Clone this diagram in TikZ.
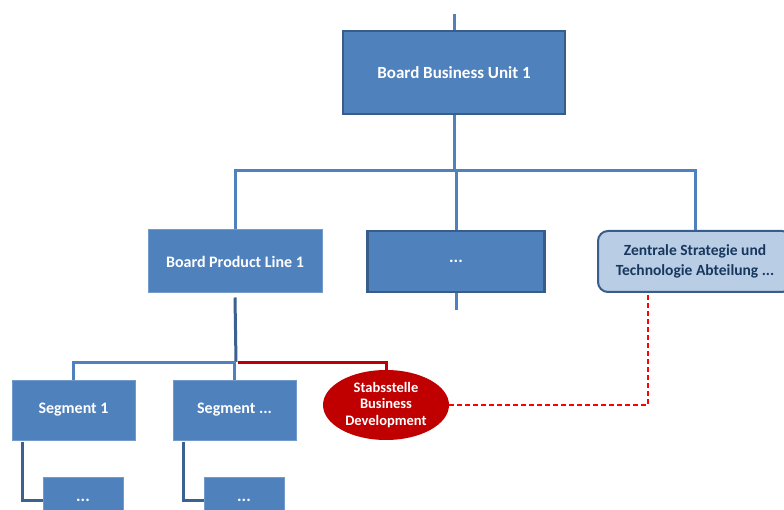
\documentclass[tikz,border=0pt]{standalone}
\usepackage{fontspec}
\setmainfont{Carlito}
\usetikzlibrary{positioning}
\usetikzlibrary{shapes.geometric}
\definecolor{boxblue}{RGB}{79,129,189}
\definecolor{darkblue}{RGB}{56,93,138}
\definecolor{lightblue}{RGB}{185,205,229}
\definecolor{navytext}{RGB}{23,55,94}
\definecolor{stabred}{RGB}{192,0,0}
\tikzset{orgbox/.style={draw=boxblue!80!white, line width=1pt, fill=boxblue, text=white, font=\bfseries\fontsize{17}{20}\selectfont, inner sep=0pt}}
\tikzset{orgboxBold/.style={orgbox, draw=darkblue, line width=2.5pt}}
\tikzset{orgboxStaff/.style={draw=darkblue, line width=2pt, fill=lightblue, text=navytext, rounded corners=10pt, align=center, font=\bfseries\fontsize{15.5}{20}\selectfont, inner sep=0pt}}
\tikzset{orgline/.style={draw=boxblue, line width=3pt}}
\tikzset{orglineDark/.style={draw=darkblue!90!boxblue, line width=3pt}}
\tikzset{staffline/.style={draw=stabred, line width=3pt}}
\tikzset{staffdash/.style={draw=red, line width=1.5pt, dash pattern=on 5pt off 3pt}}

\begin{document}
\begin{tikzpicture}[x=1pt, y=-1pt]

\clip (0,0) rectangle (784,510);

\node[orgboxBold, minimum width=222pt, minimum height=83pt] (bu1) at (454, 72.5) {Board Business Unit 1};

\node[orgbox, minimum width=174pt, minimum height=63pt, font=\bfseries\fontsize{16}{19}\selectfont] (pl1) at (235, 261.5) {Board Product Line 1};
\node[orgboxBold, minimum width=177pt, minimum height=61pt] (plx) at (456, 261.5) {...};
\node[orgboxStaff, minimum width=194pt, minimum height=61pt] (zsta) at (695, 261.5) {Zentrale Strategie und\\Technologie Abteilung ...};

\node[orgbox, minimum width=123pt, minimum height=60pt, font=\bfseries\fontsize{16}{19}\selectfont] (seg1) at (73.5, 410) {Segment 1};
\node[orgbox, minimum width=123pt, minimum height=60pt, font=\bfseries\fontsize{16}{19}\selectfont] (segx) at (234.5, 410) {Segment ...};
\node[ellipse, fill=stabred, text=white, align=center, minimum width=126pt, minimum height=70pt, inner sep=0pt, font=\bfseries\fontsize{14.5}{16.5}\selectfont] (stab) at (386, 405) {Stabsstelle\\Business\\Development};

\node[orgbox, minimum width=80pt, minimum height=46pt] (sub1) at (83, 500) {...};
\node[orgbox, minimum width=80pt, minimum height=46pt] (subx) at (244, 500) {...};

\coordinate (top) at (454, 14);
\coordinate (hbar) at (455, 171);
\coordinate (plfork) at (236, 362);
\coordinate (plstub) at (456, 310);

% board level
\draw[orgline] (top) -- (bu1.north);
\draw[orgline] (bu1.south) -- (bu1.south |- hbar);
\draw[orgline] (pl1.north) |- (hbar) -| (zsta.north);
\draw[orgline] (plx.north |- hbar) -- (plx.north);
\draw[orgline] (plx.south) -- (plstub);

% product line level
\draw[orglineDark] ([yshift=-4pt]pl1.south) -- (plfork);
\draw[orgline] (seg1.north) |- (plfork);
\draw[orgline] (segx.north) -- (segx.north |- plfork);
\draw[staffline] ([xshift=1.5pt]plfork) -| (stab.north);

\draw[orglineDark] ([xshift=-51pt, yshift=-1pt]seg1.south) |- (sub1.west);
\draw[orglineDark] ([xshift=-51pt, yshift=-1pt]segx.south) |- (subx.west);

\draw[staffdash] (stab.east) -| ([xshift=-47pt]zsta.south);

\end{tikzpicture}
\end{document}
